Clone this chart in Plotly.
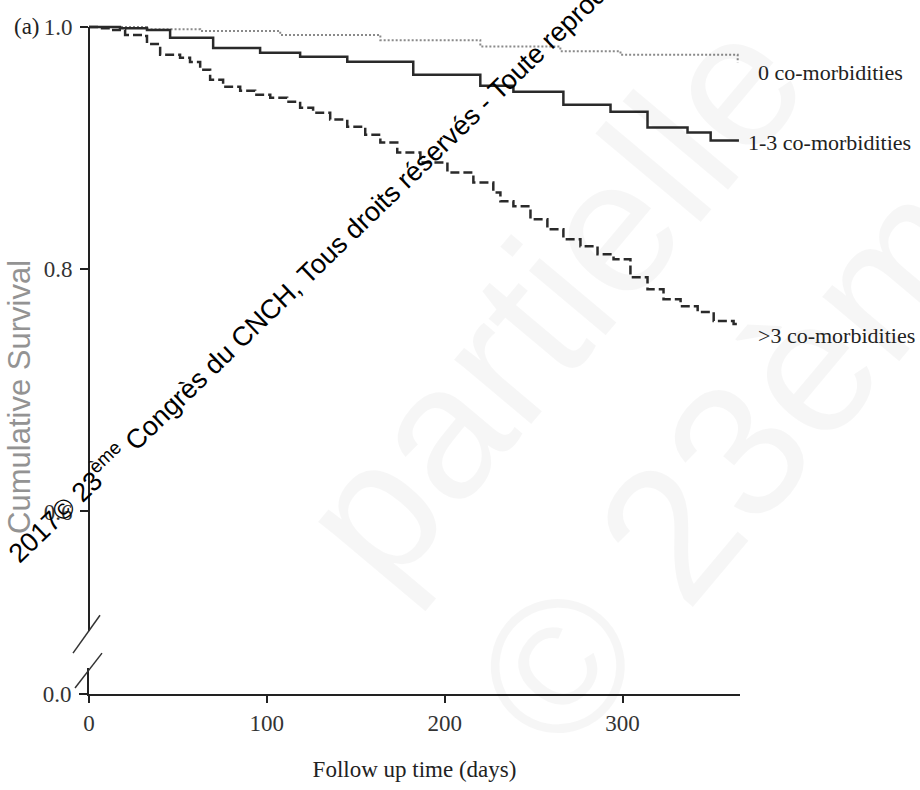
import plotly.graph_objects as go

# ---------------- data ----------------
days_0 = [0, 32.6, 62.5, 107.5, 163.8, 220, 265, 298.8, 364.7]
surv_0 = [1.0, 0.998, 0.9967, 0.9934, 0.989, 0.9838, 0.980, 0.977, 0.9706]

days_13 = [0, 7.9, 17.4, 32.6, 45.6, 69.8, 96.2, 118.7, 145.2, 182.3, 220, 238.6,
           266.7, 293.2, 314, 336.5, 349.5, 364.7]
surv_13 = [1.0, 1.0, 0.999, 0.9975, 0.991, 0.9827, 0.9786, 0.9753, 0.9712, 0.9605,
           0.9514, 0.9465, 0.9358, 0.930, 0.9169, 0.9128, 0.9062, 0.9053]

days_3p = [0, 6.2, 11.8, 20.3, 30.4, 32.6, 40, 51.2, 56.8, 62.5, 68.1, 75.4, 85, 93.4,
           101.9, 111.4, 118.7, 126, 135.6, 145.2, 155.3, 163.8, 173.3, 186.3, 201.5,
           216.1, 227.3, 231.3, 238.6, 248.2, 257.7, 266.7, 276.3, 285.9, 294.9, 304.4,
           314, 323, 332.6, 342.2, 351.2, 362.4, 364.7]
surv_3p = [1.0, 0.999, 0.9975, 0.9934, 0.9926, 0.986, 0.977, 0.9745, 0.971, 0.9646,
           0.9564, 0.9506, 0.9473, 0.944, 0.9416, 0.9383, 0.9333, 0.9292, 0.9235, 0.9177,
           0.9111, 0.9045, 0.8963, 0.8881, 0.8798, 0.8716, 0.8634, 0.856, 0.8519, 0.8412,
           0.8329, 0.8247, 0.8189, 0.8123, 0.8082, 0.7934, 0.7835, 0.7753, 0.7695, 0.7646,
           0.7572, 0.7547, 0.7523]

group_labels = ["0 co-morbidities", "1-3 co-morbidities", ">3 co-morbidities"]
x_ticks = [0, 100, 200, 300]
y_ticks_top = [0.6, 0.8, 1.0]
y_ticks_bottom = [0.0]

SERIF = "Liberation Serif"
SANS = "Liberation Sans"
INK = "#222222"

fig = go.Figure()
fig.add_trace(go.Scatter(x=days_0, y=surv_0, mode="lines", line_shape="hv",
                         line=dict(color="#8a8a8a", width=2, dash="2px,2px"),
                         xaxis="x", yaxis="y", showlegend=False, hoverinfo="skip"))
fig.add_trace(go.Scatter(x=days_13, y=surv_13, mode="lines", line_shape="hv",
                         line=dict(color="#2a2a2a", width=2.5),
                         xaxis="x", yaxis="y", showlegend=False, hoverinfo="skip"))
fig.add_trace(go.Scatter(x=days_3p, y=surv_3p, mode="lines", line_shape="hv",
                         line=dict(color="#2a2a2a", width=2.5, dash="9px,4px"),
                         xaxis="x", yaxis="y", showlegend=False, hoverinfo="skip"))
# empty trace so that the lower (broken) axis segment exists
fig.add_trace(go.Scatter(x=[None], y=[None], mode="lines", xaxis="x", yaxis="y2",
                         showlegend=False, hoverinfo="skip"))

top_lo, top_hi = 0.5012, 1.0082
TICKFONT = dict(family=SERIF, size=23, color="#333333")
fig.update_layout(
    width=920, height=790,
    margin=dict(l=89, r=180, t=17, b=94),
    paper_bgcolor="white", plot_bgcolor="white",
    font=dict(family=SERIF, color=INK),
    xaxis=dict(domain=[0, 1], anchor="y2", range=[0, 366],
               tickvals=x_ticks, ticktext=[str(v) for v in x_ticks],
               showline=True, linecolor=INK, linewidth=2, mirror=False,
               ticks="outside", ticklen=7, tickwidth=1.5, tickcolor=INK,
               showgrid=False, zeroline=False, tickfont=TICKFONT,
               title=dict(text="Follow up time (days)", standoff=26,
                          font=dict(family=SERIF, size=23, color=INK))),
    yaxis=dict(domain=[0.0928, 1], anchor="x", range=[top_lo, top_hi],
               tickvals=y_ticks_top, ticktext=["%.1f" % v for v in y_ticks_top],
               showline=False, ticks="outside", ticklen=8, tickwidth=1.5,
               tickcolor=INK, showgrid=False, zeroline=False,
               ticklabelstandoff=3, tickfont=TICKFONT),
    yaxis2=dict(domain=[0, 0.0383], anchor="x", range=[0, 0.0214],
                tickvals=y_ticks_bottom, ticktext=["%.1f" % v for v in y_ticks_bottom],
                showline=True, linecolor=INK, linewidth=2,
                ticks="outside", ticklen=8, tickwidth=1.5, tickcolor=INK,
                showgrid=False, zeroline=False, ticklabelstandoff=3,
                tickfont=TICKFONT),
)

H = 679.0
W = 651.0
def px(xp):
    return (xp - 89) / W
def py(yp):
    return (696 - yp) / H

shapes = []
# y axis line (upper part, starting at 1.0)
shapes.append(dict(type="line", xref="paper", yref="y", x0=0, x1=0,
                   y0=top_lo, y1=1.0, line=dict(color=INK, width=2)))
# axis break marks
shapes.append(dict(type="line", xref="paper", yref="paper",
                   x0=px(73), y0=py(655), x1=px(100), y1=py(617),
                   line=dict(color="#333333", width=1.5)))
shapes.append(dict(type="line", xref="paper", yref="paper",
                   x0=px(75), y0=py(690), x1=px(102), y1=py(655),
                   line=dict(color="#333333", width=1.5)))
fig.update_layout(shapes=shapes)

ann = []
# faint background watermark
faint = "rgba(0,0,0,0.035)"
for txt, cx, cy in [("partielle", 550, 300), ("© 23ème", 761, 424)]:
    ann.append(dict(text=txt, xref="paper", yref="paper", x=px(cx), y=py(cy),
                    xanchor="center", yanchor="middle", showarrow=False, textangle=-50,
                    font=dict(family=SANS, size=190, color=faint)))

# series labels
ends = [(days_0[-1], surv_0[-1], 18, -10), (days_13[-1], surv_13[-1], 8, -1),
        (days_3p[-1], surv_3p[-1], 18, -9)]
for lab, (xe, ye, xs, ys) in zip(group_labels, ends):
    ann.append(dict(text=lab, x=xe, y=ye, xref="x", yref="y", xanchor="left",
                    yanchor="middle", xshift=xs, yshift=ys, showarrow=False,
                    font=dict(family=SERIF, size=22, color=INK)))
# panel tag
ann.append(dict(text="(a)", xref="paper", yref="y", x=px(12), y=1.0, xanchor="left",
                yanchor="middle", showarrow=False,
                font=dict(family=SERIF, size=23, color=INK)))
# y title
ann.append(dict(text="Cumulative Survival", xref="paper", yref="paper", x=px(20), y=py(398),
                xanchor="center", yanchor="middle", textangle=-90, showarrow=False,
                font=dict(family=SANS, size=31, color="#939393")))
# diagonal copyright stamp
ann.append(dict(text="2017© 23<sup>ème</sup> Congrès du CNCH, Tous droits réservés - Toute reproduction",
                xref="paper", yref="paper", x=px(332), y=py(248), xanchor="center",
                yanchor="middle", textangle=-44, showarrow=False,
                font=dict(family=SANS, size=27, color="#000000")))
fig.update_layout(annotations=ann)

fig.write_html("out.html")
